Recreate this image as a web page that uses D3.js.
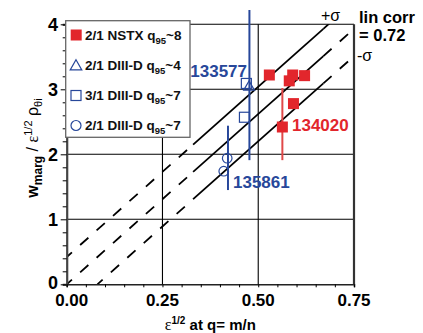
<!DOCTYPE html>
<html>
<head>
<meta charset="utf-8">
<script src="https://cdn.jsdelivr.net/npm/d3@7"></script>
<style>
  body { margin: 0; background: #fff; }
  text { font-family: "Liberation Sans", Arial, sans-serif; }
</style>
</head>
<body>
<script>
// ---- data ----
const nstxX = [0.529, 0.590, 0.621, 0.581, 0.592, 0.563];
const nstxY = [3.22, 3.22, 3.21, 3.13, 2.78, 2.42];

const d3q4X = [0.476];
const d3q4Y = [3.05];

const d3m3X = [0.469, 0.464];
const d3m3Y = [3.09, 2.57];

const d3q7X = [0.419, 0.410];
const d3q7Y = [1.94, 1.74];

// error bars: x, low, high, series
const errX = [0.477, 0.421, 0.563];
const errLo = [1.91, 1.45, 1.91];
const errHi = [4.22, 2.44, 3.02];
const errSeries = ["blue", "blue", "red"];

// shot labels
const shotNames = ["133577", "135861", "134020"];
const shotSeries = ["blue", "blue", "red"];

// linear fit and +/- sigma band
const fitSlope = 5.24;
const fitSigma = 0.42;
const fitSolid = [0.33, 0.67];

const xTicks = [0, 0.25, 0.5, 0.75];
const yTicks = [0, 1, 2, 3, 4];

const legendNames = ["2/1 NSTX q", "2/1 DIII-D q", "3/1 DIII-D q", "2/1 DIII-D q"];
const legendSubs = ["95", "95", "95", "95"];
const legendTails = ["~8", "~4", "~7", "~7"];

// ---- layout ----
const W = 423, H = 333;
const red = "#e2262c", blue = "#27479a";
const col = {red: red, blue: blue};

const svg = d3.select("body").append("svg")
  .attr("width", W).attr("height", H);

const x = d3.scaleLinear().domain([0, 0.75]).range([66.7, 354]);
const y = d3.scaleLinear().domain([0, 4]).range([284.3, 24.3]);

svg.append("defs").append("clipPath").attr("id", "plot")
  .append("rect")
  .attr("x", x(0)).attr("y", y(4))
  .attr("width", x(0.75) - x(0)).attr("height", y(0) - y(4));

// grid
const grid = svg.append("g");
grid.selectAll("line.h").data([1, 2, 3, 4]).enter().append("line")
  .attr("x1", x(0)).attr("x2", x(0.75))
  .attr("y1", d => y(d)).attr("y2", d => y(d))
  .attr("stroke", "#000").attr("stroke-width", 1.1);
grid.selectAll("line.v").data([0.25, 0.5]).enter().append("line")
  .attr("y1", y(0)).attr("y2", y(4))
  .attr("x1", d => x(d)).attr("x2", d => x(d))
  .attr("stroke", "#000").attr("stroke-width", 1.1);

// fit lines
const fitG = svg.append("g").attr("clip-path", "url(#plot)");
const line = d3.line().x(d => x(d[0])).y(d => y(d[1]));
[fitSigma, 0, -fitSigma].forEach(off => {
  const f = v => off + fitSlope * v;
  const segs = [
    [[0, fitSolid[0]], "11,11"],
    [[fitSolid[0], fitSolid[1]], null],
    [[fitSolid[1], 0.75], "11,11"]
  ];
  segs.forEach(([r, dash]) => {
    let x0 = r[0];
    if (dash && r[0] === 0 && f(0) < 0) x0 = -off / fitSlope;
    const p = fitG.append("path")
      .attr("d", line([[x0, f(x0)], [r[1], f(r[1])]]))
      .attr("fill", "none").attr("stroke", "#000").attr("stroke-width", 1.8);
    if (dash) p.attr("stroke-dasharray", dash).attr("stroke-dashoffset", r[0] === 0 ? 4 : 0);
  });
});

// axes
const yAxis = d3.axisLeft(y).tickValues(d3.range(0, 4.01, 0.2)).tickSize(4).tickFormat("");
const gy = svg.append("g").attr("transform", `translate(${x(0)},0)`).call(yAxis);
gy.selectAll(".tick line").filter(d => Math.abs(d - Math.round(d)) < 1e-6).attr("x2", -6);
gy.select(".domain").attr("stroke", "#444").attr("stroke-width", 2.2);

const xAxis = d3.axisBottom(x).tickValues(d3.range(0, 0.751, 0.05)).tickSize(3).tickFormat("");
const gx = svg.append("g").attr("transform", `translate(0,${y(0)})`).call(xAxis);
gx.select(".domain").attr("stroke", "#222").attr("stroke-width", 1.6);

// right frame
svg.append("line").attr("x1", x(0.75)).attr("x2", x(0.75)).attr("y1", y(0)).attr("y2", y(4))
  .attr("stroke", "#333").attr("stroke-width", 2.2);

// tick labels
svg.selectAll("text.yt").data(yTicks).enter().append("text")
  .attr("x", 58).attr("y", d => y(d) + (d === 0 ? 5 : 6.5))
  .attr("text-anchor", "end").attr("font-size", 18).attr("font-weight", "bold")
  .text(d => d);
svg.selectAll("text.xt").data(xTicks).enter().append("text")
  .attr("x", d => x(d) + (d === 0 ? 5 : 0)).attr("y", 306)
  .attr("text-anchor", "middle").attr("font-size", 17).attr("font-weight", "bold")
  .text(d => d3.format(".2f")(d));

// axis titles
const xl = svg.append("text").attr("x", x(0.375)).attr("y", 330)
  .attr("text-anchor", "middle").attr("font-size", 15).attr("font-weight", "bold");
xl.append("tspan").attr("font-family", "Liberation Serif").attr("font-weight", "normal").attr("font-size", 16).text("ε");
xl.append("tspan").attr("font-size", 10).attr("dy", -6).text("1/2");
xl.append("tspan").attr("dy", 6).text(" at q= m/n");

const yl = svg.append("text").attr("transform", "translate(38,148) rotate(-90)")
  .attr("text-anchor", "middle").attr("font-size", 16).attr("font-weight", "bold");
yl.append("tspan").text("w");
yl.append("tspan").attr("font-size", 12).attr("dy", 4).text("marg");
yl.append("tspan").attr("dy", -4).attr("font-weight", "normal").text(" / ");
yl.append("tspan").attr("font-family", "Liberation Serif").attr("font-weight", "normal").text("ε");
yl.append("tspan").attr("font-size", 11).attr("font-weight", "normal").attr("dy", -6).text("1/2");
yl.append("tspan").attr("dy", 6).attr("font-weight", "normal").text(" ρ");
yl.append("tspan").attr("font-size", 11).attr("font-weight", "normal").attr("dy", 4).text("θi");

// error bars
svg.selectAll("line.err").data(errX).enter().append("line")
  .attr("x1", d => x(d)).attr("x2", d => x(d))
  .attr("y1", (d, i) => y(errLo[i])).attr("y2", (d, i) => y(errHi[i]))
  .attr("stroke", (d, i) => errSeries[i] === "red" ? "#e04848" : blue)
  .attr("stroke-width", 2);

// data markers
svg.selectAll("rect.nstx").data(nstxX).enter().append("rect")
  .attr("x", d => x(d) - 5.5).attr("y", (d, i) => y(nstxY[i]) - 5.5)
  .attr("width", 11).attr("height", 11).attr("fill", red);

const tri = d3.symbol().type(d3.symbolTriangle).size(50);
svg.selectAll("path.q4").data(d3q4X).enter().append("path")
  .attr("d", tri).attr("transform", (d, i) => `translate(${x(d)},${y(d3q4Y[i]) + 1})`)
  .attr("fill", "none").attr("stroke", blue).attr("stroke-width", 1.2);

svg.selectAll("rect.m3").data(d3m3X).enter().append("rect")
  .attr("x", d => x(d) - 5).attr("y", (d, i) => y(d3m3Y[i]) - 5)
  .attr("width", 10).attr("height", 10)
  .attr("fill", "none").attr("stroke", blue).attr("stroke-width", 1.2);

svg.selectAll("circle.q7").data(d3q7X).enter().append("circle")
  .attr("cx", d => x(d)).attr("cy", (d, i) => y(d3q7Y[i])).attr("r", 4.8)
  .attr("fill", "none").attr("stroke", blue).attr("stroke-width", 1.2);

// shot labels next to their error bars
const shotPos = [[247, 77, "end"], [233, 188, "start"], [292, 131, "start"]];
svg.selectAll("text.shot").data(shotNames).enter().append("text")
  .attr("x", (d, i) => shotPos[i][0]).attr("y", (d, i) => shotPos[i][1])
  .attr("text-anchor", (d, i) => shotPos[i][2])
  .attr("font-size", 17).attr("font-weight", "bold")
  .attr("fill", (d, i) => col[shotSeries[i]])
  .text(d => d);

// fit annotations
svg.append("text").attr("x", 321).attr("y", 21).attr("font-size", 16).text("+σ");
svg.append("text").attr("x", 359).attr("y", 23).attr("font-size", 16.5).attr("font-weight", "bold").text("lin corr");
svg.append("text").attr("x", 359).attr("y", 41).attr("font-size", 16.5).attr("font-weight", "bold").text("= 0.72");
svg.append("text").attr("x", 357).attr("y", 61).attr("font-size", 16).text("-σ");

// legend
const lg = svg.append("g");
lg.append("rect").attr("x", 65.7).attr("y", 20.7).attr("width", 124.3).attr("height", 116.6)
  .attr("fill", "#fff").attr("stroke", "#666").attr("stroke-width", 1.3);
const rowY = [35, 65.5, 95.5, 125.5];
lg.append("rect").attr("x", 70.7).attr("y", rowY[0] - 5.5).attr("width", 11).attr("height", 11).attr("fill", red);
lg.append("path").attr("d", d3.symbol().type(d3.symbolTriangle).size(58))
  .attr("transform", `translate(76,${rowY[1] + 1})`)
  .attr("fill", "none").attr("stroke", blue).attr("stroke-width", 1.2);
lg.append("rect").attr("x", 71).attr("y", rowY[2] - 5).attr("width", 10).attr("height", 10)
  .attr("fill", "none").attr("stroke", blue).attr("stroke-width", 1.2);
lg.append("circle").attr("cx", 76).attr("cy", rowY[3]).attr("r", 5)
  .attr("fill", "none").attr("stroke", blue).attr("stroke-width", 1.2);

legendNames.forEach((n, i) => {
  const t = lg.append("text").attr("x", 85).attr("y", rowY[i] + 4.5)
    .attr("font-size", 13.5).attr("font-weight", "bold").attr("fill", "#111");
  t.append("tspan").text(n);
  t.append("tspan").attr("font-size", 9.5).attr("dy", 4).text(legendSubs[i]);
  t.append("tspan").attr("dy", -4).text(legendTails[i]);
});
</script>
</body>
</html>
